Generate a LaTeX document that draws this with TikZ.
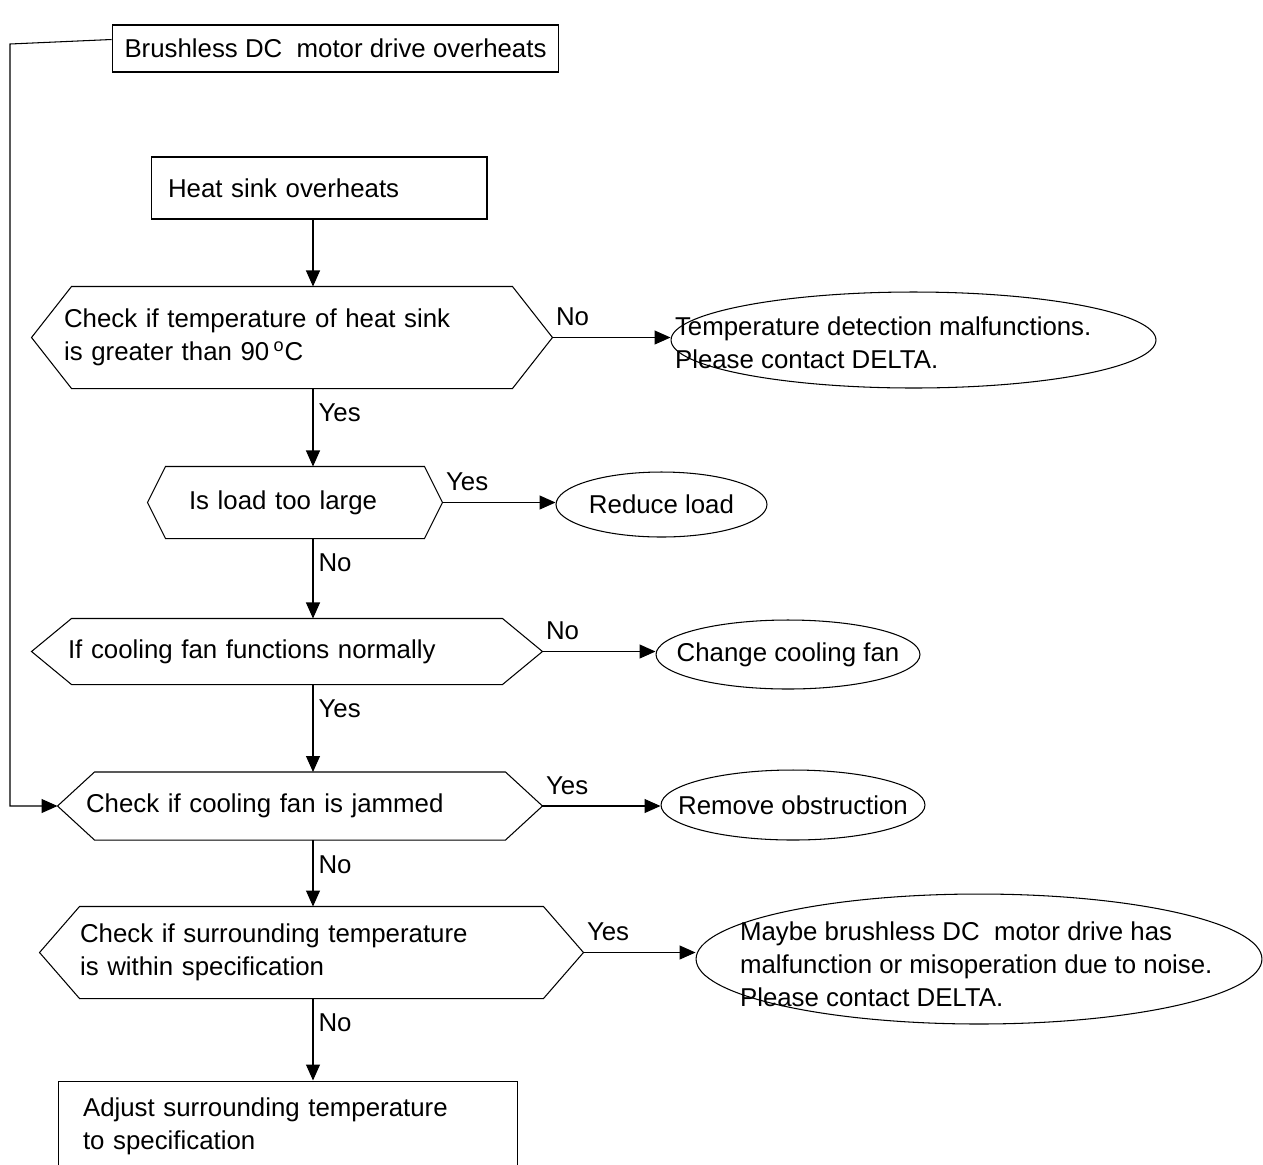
\documentclass[tikz,border=0pt]{standalone}
\usepackage{fontspec}
\setmainfont{Liberation Sans}
\usetikzlibrary{shapes.geometric,arrows.meta}

\begin{document}
\begin{tikzpicture}[
	x=0.02cm, y=-0.02cm,
	line width=0.6pt,
	every node/.style={
		font=\fontsize{14.7}{18.7}\selectfont,
		inner sep=0pt
	},
	box/.style={draw, rectangle, align=left},
	test/.style={rectangle, align=left},
	ending/.style={draw, ellipse},
	msg/.style={align=left, anchor=west},
	flow/.style={-{Triangle[length=0.32cm, width=0.28cm]}},
	drop/.style={pos=0, anchor=north west, xshift=0.1cm, yshift=-0.3cm},
	side/.style={pos=0, anchor=south west, xshift=0.06cm, yshift=0.22cm}
]
\useasboundingbox (0,0) rectangle (1263,1164);
\clip (0,0) rectangle (1263,1164);

% start boxes
\node[box, minimum width=8.94cm, minimum height=0.94cm] (overheat) at (335.5,48.5) {Brushless DC~ motor drive overheats};
\node[box, minimum width=6.72cm, minimum height=1.24cm, inner xsep=0.34cm, text width=6.04cm] (heatsink) at (319,188) {Heat sink overheats};

% checks
\node[test, minimum width=10.4cm, minimum height=2.02cm, inner xsep=0.64cm, text width=9.12cm] (tempcheck) at (292,337.5) {Check if temperature of heat sink\\is greater than 90\,\textsuperscript{o}C};
\node[test, minimum width=5.88cm, minimum height=1.42cm, inner xsep=0.82cm, text width=4.24cm] (loadcheck) at (295,502.5) {Is load too large};
\node[test, minimum width=10.2cm, minimum height=1.3cm, inner xsep=0.72cm, text width=8.76cm] (fancheck) at (287,651.5) {If cooling fan functions normally};
\node[test, minimum width=9.68cm, minimum height=1.34cm, inner xsep=0.56cm, text width=8.56cm] (jamcheck) at (300,806) {Check if cooling fan is jammed};
\node[test, minimum width=10.86cm, minimum height=1.82cm, inner xsep=0.8cm, text width=9.26cm] (ambcheck) at (311.5,952.5) {Check if surrounding temperature\\is within specification};

\foreach \n/\s in {tempcheck/40, loadcheck/18, fancheck/40, jamcheck/37, ambcheck/40}
	\draw (\n.west) -- ([xshift=\s*0.02cm]\n.north west) -- ([xshift=-\s*0.02cm]\n.north east) -- (\n.east)
		-- ([xshift=-\s*0.02cm]\n.south east) -- ([xshift=\s*0.02cm]\n.south west) -- cycle;

\node[box, minimum width=9.2cm, minimum height=1.82cm, inner xsep=0.5cm, text width=8.2cm] (adjust) at (288,1126.5) {Adjust surrounding temperature\\to specification};

% results
\node[ending, minimum width=9.7cm, minimum height=1.92cm] (detfail) at (913.5,340) {};
\node[msg] (detfailtext) at ([xshift=0.08cm, yshift=-0.05cm]detfail.west) {Temperature detection malfunctions.\\Please contact DELTA.};
\node[ending, minimum width=4.22cm, minimum height=1.3cm] (reduce) at (661.5,504.5) {};
\node (reducetext) at (reduce) {Reduce load};
\node[ending, minimum width=5.28cm, minimum height=1.38cm] (newfan) at (788,654.5) {};
\node (newfantext) at (newfan) {Change cooling fan};
\node[ending, minimum width=5.28cm, minimum height=1.4cm] (clear) at (793,805) {};
\node (cleartext) at (clear) {Remove obstruction};
\node[ending, minimum width=11.32cm, minimum height=2.6cm] (noise) at (979,959) {};
\node[msg] (noisetext) at ([xshift=0.88cm, yshift=-0.1cm]noise.west) {Maybe brushless DC~ motor drive has\\malfunction or misoperation due to noise.\\Please contact DELTA.};

% main line
\coordinate (spine) at (313,0);
\draw[flow] (heatsink.south -| spine) -- (tempcheck.north -| spine);
\draw[flow] (tempcheck.south -| spine) -- node[drop] {Yes} (loadcheck.north -| spine);
\draw[flow] (loadcheck.south -| spine) -- node[drop] {No} (fancheck.north -| spine);
\draw[flow] (fancheck.south -| spine) -- node[drop] {Yes} (jamcheck.north -| spine);
\draw[flow] (jamcheck.south -| spine) -- node[drop] {No} (ambcheck.north -| spine);
\draw[flow] (ambcheck.south -| spine) -- node[drop] {No} (adjust.north -| spine);

% side branches
\draw[flow] (tempcheck.east) -- node[side] {No} (tempcheck.east -| detfail.west);
\draw[flow] (loadcheck.east) -- node[side] {Yes} (loadcheck.east -| reduce.west);
\draw[flow] (fancheck.east) -- node[side] {No} (fancheck.east -| newfan.west);
\draw[flow] (jamcheck.east) -- node[side] {Yes} (jamcheck.east -| clear.west);
\draw[flow] (ambcheck.east) -- node[side] {Yes} (ambcheck.east -| noise.west);

% drive overheat goes straight to fan check
\coordinate (corner) at (10,44);
\draw[flow] ([yshift=0.18cm]overheat.west) -- (corner) |- (jamcheck.west);
\end{tikzpicture}
\end{document}
